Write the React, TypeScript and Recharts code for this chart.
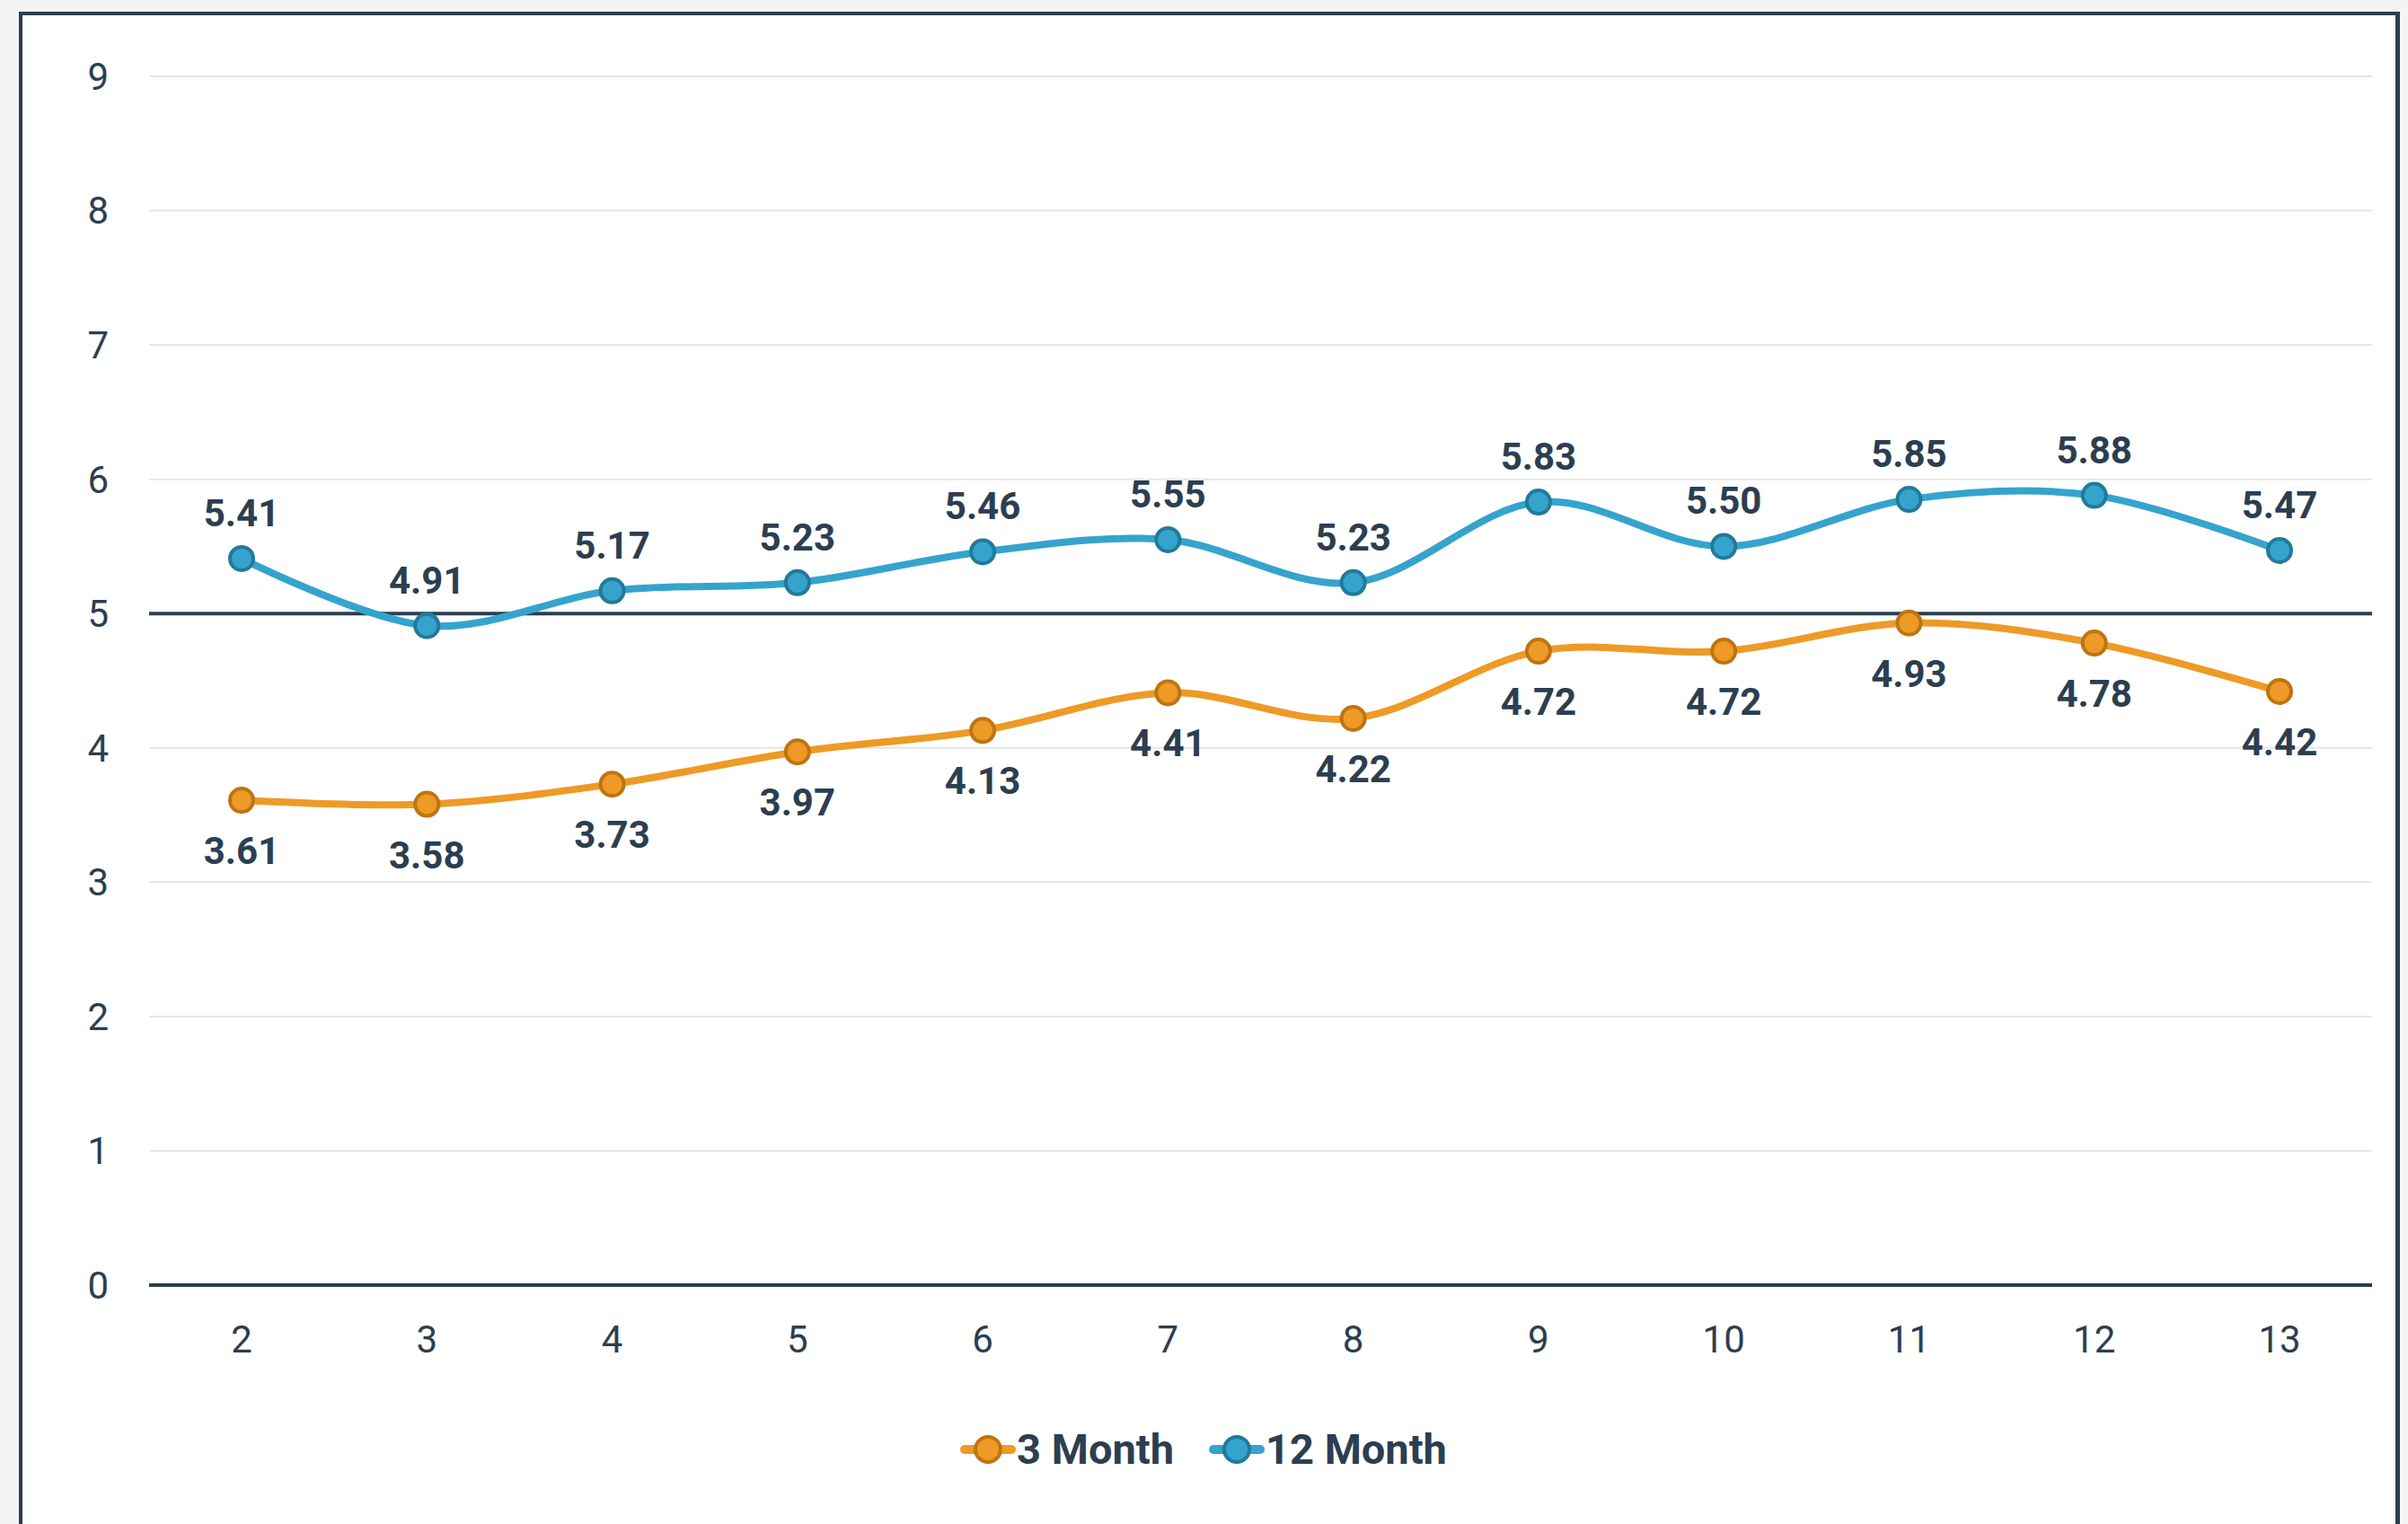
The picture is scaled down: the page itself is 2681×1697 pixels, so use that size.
import React from "react";
import { LineChart, Line, XAxis, YAxis, CartesianGrid, ReferenceLine, LabelList } from "recharts";

const months = ["2", "3", "4", "5", "6", "7", "8", "9", "10", "11", "12", "13"];
const threeMonth = [3.61, 3.58, 3.73, 3.97, 4.13, 4.41, 4.22, 4.72, 4.72, 4.93, 4.78, 4.42];
const twelveMonth = [5.41, 4.91, 5.17, 5.23, 5.46, 5.55, 5.23, 5.83, 5.5, 5.85, 5.88, 5.47];
const seriesNames = ["3 Month", "12 Month"];
const yTicks = [0, 1, 2, 3, 4, 5, 6, 7, 8, 9];
const baseline = 5;

const data = months.map((m, i) => ({ month: m, m3: threeMonth[i], m12: twelveMonth[i] }));

const DARK = "#2c3e50";
const ORANGE = "#ee9a26";
const ORANGE_DARK = "#bf7410";
const BLUE = "#35a4cd";
const BLUE_DARK = "#23799b";
const FONT = "Roboto, 'Noto Sans', sans-serif";

// catmull-rom style spline (control points a third of the way, tangent from neighbours)
function splineCurve(context: any) {
  let xs: number[] = [];
  let ys: number[] = [];
  return {
    areaStart() {},
    areaEnd() {},
    lineStart() {
      xs = [];
      ys = [];
    },
    point(x: number, y: number) {
      xs.push(+x);
      ys.push(+y);
    },
    lineEnd() {
      const n = xs.length;
      if (!n) return;
      const sm = 2;
      const den = sm + 1;
      const lc: number[][] = [];
      const rc: number[][] = [];
      for (let i = 0; i < n; i++) {
        const x = xs[i];
        const y = ys[i];
        if (i > 0 && i < n - 1) {
          const lx = xs[i - 1], ly = ys[i - 1], nx = xs[i + 1], ny = ys[i + 1];
          const lcx = (sm * x + lx) / den;
          let lcy = (sm * y + ly) / den;
          const rcx = (sm * x + nx) / den;
          let rcy = (sm * y + ny) / den;
          const corr = ((rcy - lcy) * (rcx - x)) / (rcx - lcx) + y - rcy;
          lcy += corr;
          rcy += corr;
          lc[i] = [lcx, lcy];
          rc[i] = [rcx, rcy];
        } else {
          lc[i] = [x, y];
          rc[i] = [x, y];
        }
      }
      context.moveTo(xs[0], ys[0]);
      for (let i = 1; i < n; i++) {
        context.bezierCurveTo(rc[i - 1][0], rc[i - 1][1], lc[i][0], lc[i][1], xs[i], ys[i]);
      }
    },
  };
}

const makeLabel = (offset: number) => (props: any) => {
  const { x, y, value } = props;
  if (value == null) return null;
  return (
    <text
      x={x}
      y={y + offset}
      textAnchor="middle"
      fill={DARK}
      fontSize={42}
      fontWeight={700}
      fontFamily={FONT}
    >
      {Number(value).toFixed(2)}
    </text>
  );
};

const LegendIcon = ({ color, dark }: { color: string; dark: string }) => (
  <svg width={64} height={36} style={{ display: "block" }}>
    <line x1={6} y1={18} x2={58} y2={18} stroke={color} strokeWidth={10} strokeLinecap="round" />
    <circle cx={32} cy={18} r={14} fill={color} stroke={dark} strokeWidth={4} />
  </svg>
);

const App = () => {
  const legendItems = [
    { name: seriesNames[0], color: ORANGE, dark: ORANGE_DARK },
    { name: seriesNames[1], color: BLUE, dark: BLUE_DARK },
  ];
  return (
    <div style={{ position: "relative", width: 2681, height: 1697, background: "#f4f4f4", overflow: "hidden" }}>
      <style>{"body{margin:0;background:#f4f4f4}"}</style>
      <div
        style={{
          position: "absolute",
          left: 21,
          top: 13,
          width: 2651,
          height: 1720,
          boxSizing: "border-box",
          background: "#fff",
          borderTop: `4px solid ${DARK}`,
          borderLeft: `4px solid ${DARK}`,
          borderRight: `5px solid ${DARK}`,
        }}
      />
      <div style={{ position: "absolute", left: 0, top: 0 }}>
        <LineChart width={2681} height={1697} data={data} margin={{ top: 85, right: 40, bottom: 166, left: 66 }}>
          <CartesianGrid vertical={false} stroke="#e6e6e6" strokeWidth={2} />
          <XAxis
            dataKey="month"
            height={100}
            padding={{ left: 103, right: 103 }}
            axisLine={{ stroke: DARK, strokeWidth: 4 }}
            tickLine={false}
            tickSize={0}
            tickMargin={45}
            tick={{ fill: DARK, fontSize: 42, fontFamily: FONT }}
          />
          <YAxis
            width={100}
            domain={[0, 9]}
            ticks={yTicks}
            axisLine={false}
            tickLine={false}
            tickSize={0}
            tickMargin={45}
            tick={{ fill: DARK, fontSize: 42, fontFamily: FONT }}
          />
          <ReferenceLine y={baseline} stroke={DARK} strokeWidth={4} />
          <Line
            dataKey="m3"
            name={seriesNames[0]}
            type={splineCurve as any}
            stroke={ORANGE}
            strokeWidth={8}
            dot={{ r: 13, fill: ORANGE, stroke: ORANGE_DARK, strokeWidth: 4 }}
            activeDot={false}
            isAnimationActive={false}
          >
            <LabelList dataKey="m3" content={makeLabel(71)} />
          </Line>
          <Line
            dataKey="m12"
            name={seriesNames[1]}
            type={splineCurve as any}
            stroke={BLUE}
            strokeWidth={8}
            dot={{ r: 13, fill: BLUE, stroke: BLUE_DARK, strokeWidth: 4 }}
            activeDot={false}
            isAnimationActive={false}
          >
            <LabelList dataKey="m12" content={makeLabel(-36)} />
          </Line>
        </LineChart>
      </div>
      <div
        style={{
          position: "absolute",
          left: 14,
          width: 2651,
          top: 1586,
          display: "flex",
          justifyContent: "center",
          alignItems: "center",
          gap: 38,
          fontFamily: FONT,
          fontWeight: 700,
          fontSize: 47,
          color: DARK,
          lineHeight: "56px",
        }}
      >
        {legendItems.map((it) => (
          <div key={it.name} style={{ display: "flex", alignItems: "center" }}>
            <LegendIcon color={it.color} dark={it.dark} />
            <span>{it.name}</span>
          </div>
        ))}
      </div>
    </div>
  );
};

export default App;
